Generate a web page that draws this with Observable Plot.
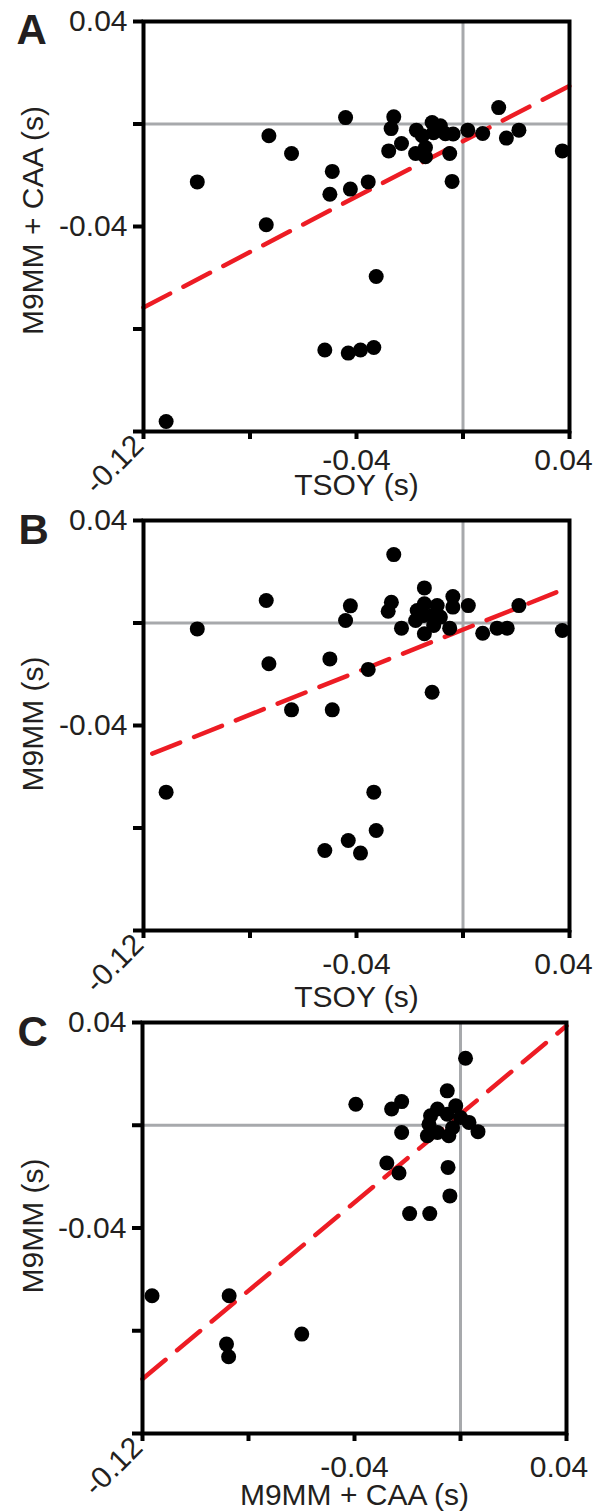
<!DOCTYPE html>
<html><head><meta charset="utf-8">
<script src="https://cdn.jsdelivr.net/npm/d3@7"></script>
<script src="https://cdn.jsdelivr.net/npm/@observablehq/plot@0.6"></script>
<style>
html,body{margin:0;padding:0;background:#fff;}
#root{position:relative;width:595px;height:1512px;overflow:hidden;background:#fff;}
.panel{position:absolute;left:0;}
svg{display:block;overflow:visible;}
</style></head><body><div id="root"></div>
<script>
// ---- Panel A: TSOY vs M9MM + CAA ----
const aX = [-0.1115,-0.0998,-0.0739,-0.0729,-0.0644,-0.0500,-0.0491,-0.0441,-0.0423,-0.0356,-0.0326,-0.0519,-0.0431,-0.0385,-0.0335,-0.0260,-0.0270,-0.0231,-0.0279,-0.0175,-0.0116,-0.0085,-0.0153,-0.0141,-0.0178,-0.0141,-0.0037,-0.0050,0.0018,0.0074,0.0134,0.0163,0.0210,0.0373,-0.0041,-0.0066,-0.0111];
const aY = [-0.1161,-0.0226,-0.0393,-0.0046,-0.0115,-0.0274,-0.0185,0.0025,-0.0254,-0.0226,-0.0595,-0.0882,-0.0894,-0.0882,-0.0872,0.0028,-0.0018,-0.0076,-0.0105,-0.0024,0.0006,-0.0007,-0.0046,-0.0092,-0.0115,-0.0128,-0.0039,-0.0115,-0.0024,-0.0037,0.0064,-0.0055,-0.0024,-0.0105,-0.0224,-0.0038,-0.0034];
const aFitX = [-0.12, 0.04];
const aFitY = [-0.0716, 0.0149];

// ---- Panel B: TSOY vs M9MM ----
const bX = [-0.1115,-0.0998,-0.0739,-0.0729,-0.0644,-0.0500,-0.0491,-0.0441,-0.0423,-0.0356,-0.0335,-0.0326,-0.0431,-0.0519,-0.0385,-0.0260,-0.0269,-0.0281,-0.0231,-0.0145,-0.0172,-0.0145,-0.0097,-0.0178,-0.0147,-0.0116,-0.0085,-0.0145,-0.0110,-0.0038,-0.0038,-0.0050,0.0020,0.0074,0.0128,0.0166,0.0210,0.0373,-0.0116];
const bY = [-0.0660,-0.0023,0.0088,-0.0159,-0.0339,-0.0140,-0.0339,0.0010,0.0067,-0.0181,-0.0660,-0.0810,-0.0849,-0.0888,-0.0898,0.0267,0.0081,0.0046,-0.0020,0.0137,0.0049,0.0075,0.0068,0.0010,0.0029,0.0029,0.0023,-0.0042,-0.0010,0.0103,0.0062,-0.0020,0.0068,-0.0040,-0.0020,-0.0020,0.0068,-0.0029,-0.0270];
const bFitX = [-0.1167, 0.0385];
const bFitY = [-0.0510, 0.0134];

// ---- Panel C: M9MM + CAA vs M9MM ----
const cX = [0.0019,-0.0050,-0.0395,-0.0222,-0.0260,-0.0222,-0.0278,-0.0232,-0.0047,-0.0040,-0.0192,-0.0116,-0.0018,-0.0087,-0.0113,-0.0119,-0.0125,-0.0087,-0.0044,0.0000,0.0032,0.0066,-0.0050,-0.0030,-0.1164,-0.0873,-0.0883,-0.0875,-0.0599];
const cY = [0.0261,0.0134,0.0082,0.0092,0.0063,-0.0028,-0.0147,-0.0186,-0.0164,-0.0275,-0.0344,-0.0344,0.0076,0.0063,0.0037,0.0004,-0.0041,-0.0028,-0.0041,0.0030,0.0011,-0.0025,0.0043,-0.0010,-0.0664,-0.0664,-0.0852,-0.0901,-0.0813];
const cFitX = [-0.12, 0.04];
const cFitY = [-0.0988, 0.0387];

const tickValues = [-0.12, -0.08, -0.04, 0, 0.04];
const yLabelTicks = [0.04, -0.04];
const xLabelTickMid = [-0.04];
const xLabelTickEnd = [0.04];
const cornerLabel = "-0.12";

const FONT = "Arial, 'Liberation Sans', Helvetica, sans-serif";
const INK = "#231f20";
const fmt = d => d.toFixed(2);

function panel(o) {
  const pts = o.xs.map((x, i) => ({x, y: o.ys[i]}));
  const fit = o.fitX.map((x, i) => ({x, y: o.fitY[i]}));
  return Plot.plot({
    width: 595, height: o.height,
    marginTop: o.mt, marginBottom: o.mb, marginLeft: o.ml, marginRight: o.mr,
    style: {fontFamily: FONT, fontSize: "30px", color: INK, background: "transparent", overflow: "visible"},
    x: {domain: [-0.12, 0.04]},
    y: {domain: [-0.12, 0.04]},
    marks: [
      Plot.ruleX([0], {stroke: "#a7a9ac", strokeWidth: 3}),
      Plot.ruleY([0], {stroke: "#a7a9ac", strokeWidth: 3}),
      Plot.line(fit, {x: "x", y: "y", stroke: "#ed1c24", strokeWidth: 4.5, strokeDasharray: "30,15"}),
      Plot.dot(pts, {x: "x", y: "y", r: 7.5, fill: "black"}),
      // tick marks
      Plot.axisY(tickValues, {tickFormat: null, text: null, tickSize: 10, stroke: "black", strokeWidth: 4, label: null}),
      Plot.axisX(tickValues, {tickFormat: null, text: null, tickSize: 8, stroke: "black", strokeWidth: 4, label: null}),
      // tick labels
      Plot.axisY(yLabelTicks, {tickFormat: fmt, tickSize: 0, tickPadding: 16, fontSize: 30, fill: INK, label: null}),
      Plot.axisX(xLabelTickMid, {tickFormat: fmt, tickSize: 0, tickPadding: 8 + o.xPad, fontSize: 30, fill: INK, label: null}),
      Plot.axisX(xLabelTickEnd, {tickFormat: fmt, tickSize: 0, tickPadding: 8 + o.xPad, dx: o.endDx, fontSize: 30, fill: INK, label: null}),
      Plot.text([{x: -0.12, y: -0.12, t: cornerLabel}], {x: "x", y: "y", text: "t", rotate: -45, textAnchor: "end", lineAnchor: "middle", dx: -5, dy: 9, fontSize: 30, fill: INK}),
      // axis titles
      Plot.text([o.xLabel], {frameAnchor: "bottom", textAnchor: "middle", lineAnchor: "top", dy: o.titleDy, fontSize: 30, fill: INK}),
      Plot.text([o.yLabel], {frameAnchor: "left", textAnchor: "middle", lineAnchor: "middle", rotate: -90, dx: 33 - o.ml, dy: o.yTitleDy, fontSize: 30, fill: INK}),
      // panel letter
      Plot.text([o.letter], {frameAnchor: "top-left", textAnchor: "start", lineAnchor: "middle", dx: o.letterX - o.ml, dy: o.letterDy, fontSize: 42, fontWeight: "bold", fill: INK}),
      Plot.frame({stroke: "black", strokeWidth: 4})
    ]
  });
}

const root = document.getElementById("root");
const configs = [
  {letter: "A", xs: aX, ys: aY, fitX: aFitX, fitY: aFitY, xLabel: "TSOY (s)", yLabel: "M9MM + CAA (s)",
   top: 0, height: 500, mt: 21, mb: 69, ml: 143, mr: 26, xPad: 9, endDx: -6, titleDy: 42, yTitleDy: -6, letterX: 16, letterDy: 9},
  {letter: "B", xs: bX, ys: bY, fitX: bFitX, fitY: bFitY, xLabel: "TSOY (s)", yLabel: "M9MM (s)",
   top: 500, height: 500, mt: 20, mb: 70, ml: 143, mr: 26, xPad: 14, endDx: -6, titleDy: 55, yTitleDy: -1.5, letterX: 18, letterDy: 9.6},
  {letter: "C", xs: cX, ys: cY, fitX: cFitX, fitY: cFitY, xLabel: "M9MM + CAA (s)", yLabel: "M9MM (s)",
   top: 1000, height: 512, mt: 22, mb: 79, ml: 142, mr: 29, xPad: 14, endDx: -7.5, titleDy: 50, yTitleDy: -2, letterX: 17, letterDy: 9.6}
];
for (const c of configs) {
  const div = document.createElement("div");
  div.className = "panel";
  div.style.top = c.top + "px";
  div.appendChild(panel(c));
  root.appendChild(div);
}
</script></body></html>
